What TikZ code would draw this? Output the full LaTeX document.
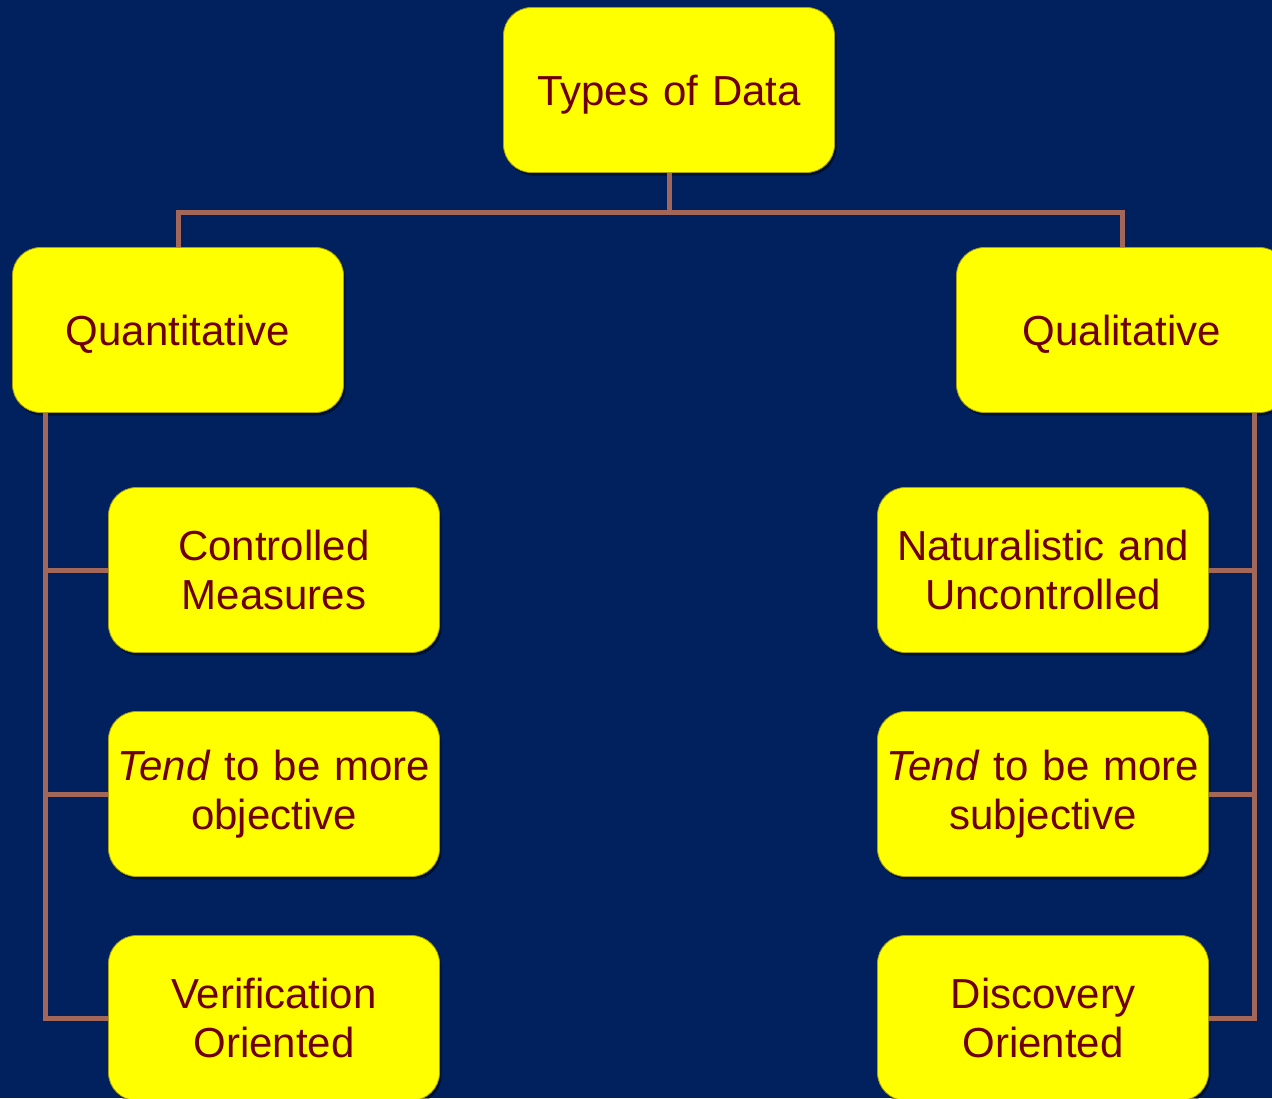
\documentclass[tikz,border=0pt]{standalone}
\usepackage{fontspec}
\setmainfont{Liberation Sans}
\usetikzlibrary{shadows}
\definecolor{bgnavy}{RGB}{0,32,94}
\definecolor{boxyellow}{RGB}{255,255,0}
\definecolor{txtred}{RGB}{112,0,0}
\definecolor{linebrown}{RGB}{163,103,90}
\definecolor{boxedge}{RGB}{170,160,0}
\newcommand{\lowertxt}[2]{\raisebox{-#1}[\height][\depth]{#2}}
\tikzset{
  databox/.style={rectangle, rounded corners=28pt, fill=boxyellow, draw=boxedge, line width=0.8pt,
    minimum width=331pt, minimum height=165pt, text width=320pt, align=center,
    text=txtred, font=\fontsize{42}{49}\selectfont, inner sep=0pt,
    drop shadow={shadow xshift=2pt, shadow yshift=-3pt, opacity=0.45, fill=black}},
  conn/.style={draw=linebrown, line width=5pt}
}
\begin{document}
\begin{tikzpicture}[x=1pt,y=-1pt]
\fill[bgnavy] (0,0) rectangle (1272,1098);
\useasboundingbox (0,0) rectangle (1272,1098);
\clip (0,0) rectangle (1272,1098);
\node[databox] (top) at (669,90) {\lowertxt{5pt}{Types of Data}};
\node[databox] (quant) at (178,330) {\lowertxt{4pt}{Quantitative}};
\node[databox] (qual) at (1122,330) {\lowertxt{4pt}{Qualitative}};
\node[databox] (cm) at (274,570) {Controlled\\Measures};
\node[databox] (obj) at (274,794) {\textit{Tend} to be more\\objective};
\node[databox] (ver) at (274,1018) {Verification\\Oriented};
\node[databox] (nat) at (1043,570) {Naturalistic and\\Uncontrolled};
\node[databox] (subj) at (1043,794) {\textit{Tend} to be more\\subjective};
\node[databox] (disc) at (1043,1018) {Discovery\\Oriented};
\coordinate (hbar) at (669,212);
\draw[conn] (top.south) -- (top.south |- hbar) -| (quant.north);
\draw[conn] (top.south |- hbar) -| (qual.north);
\coordinate (lv) at ([xshift=33pt]quant.south west);
\coordinate (rv) at ([xshift=-33pt]qual.south east);
\draw[conn] (lv) |- (ver.west);
\draw[conn] (lv |- cm.west) -- (cm.west);
\draw[conn] (lv |- obj.west) -- (obj.west);
\draw[conn] (rv) |- (disc.east);
\draw[conn] (rv |- nat.east) -- (nat.east);
\draw[conn] (rv |- subj.east) -- (subj.east);
\end{tikzpicture}
\end{document}
